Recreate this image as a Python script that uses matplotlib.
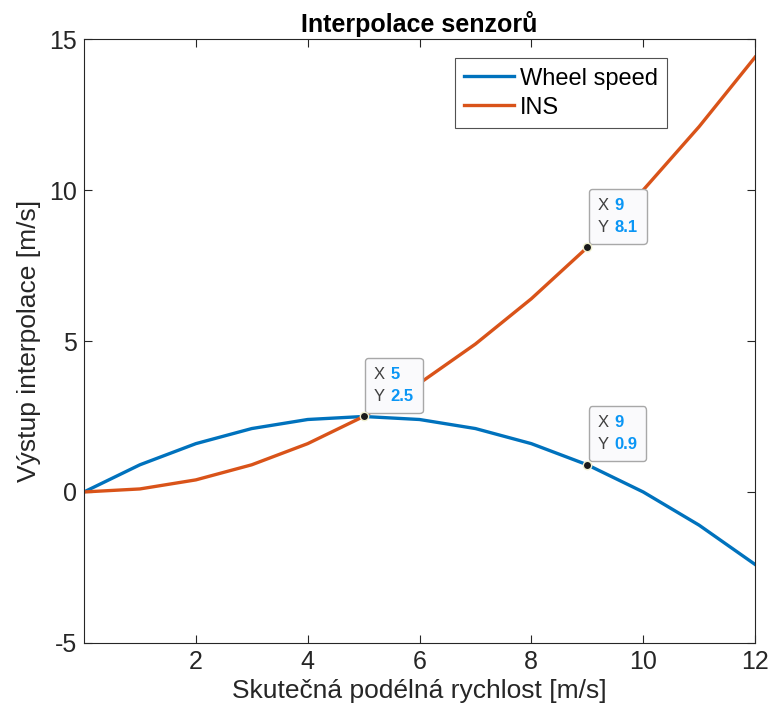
import numpy as np
import matplotlib
matplotlib.use('Agg')
import matplotlib.pyplot as plt
from matplotlib.offsetbox import AnnotationBbox, TextArea, HPacker, VPacker

plt.rcParams['font.family'] = ['Liberation Sans', 'DejaVu Sans']
plt.rcParams['axes.unicode_minus'] = False

# data
x = [0, 1, 2, 3, 4, 5, 6, 7, 8, 9, 10, 11, 12]
wheel_speed = [0, 0.9, 1.6, 2.1, 2.4, 2.5, 2.4, 2.1, 1.6, 0.9, 0, -1.1, -2.4]
ins = [0, 0.1, 0.4, 0.9, 1.6, 2.5, 3.6, 4.9, 6.4, 8.1, 10, 12.1, 14.4]

# data tips (x, y)
tips_x = [5, 9, 9]
tips_y = [2.5, 8.1, 0.9]
tips_lbl = ['5', '9', '9']
tips_val = ['2.5', '8.1', '0.9']

fig = plt.figure(figsize=(7.74, 7.24), dpi=100)
ax = fig.add_axes([0.1085, 0.112, 0.867, 0.834])

ax.plot(x, wheel_speed, color='#0072BD', lw=2.4, label='Wheel speed')
ax.plot(x, ins, color='#D95319', lw=2.4, label='INS')

ax.set_xlim(0, 12)
ax.set_ylim(-5, 15)
ax.set_xticks([2, 4, 6, 8, 10, 12])
ax.set_yticks([-5, 0, 5, 10, 15])
ax.tick_params(direction='in', top=True, right=True, labelsize=18, length=6,
               color='#262626', labelcolor='#262626', pad=5)
for s in ax.spines.values():
    s.set_color('#262626')
    s.set_linewidth(0.8)

ax.set_xlabel('Skutečná podélná rychlost [m/s]', fontsize=19, color='#262626', labelpad=4)
ax.set_ylabel('Výstup interpolace [m/s]', fontsize=19, color='#262626', labelpad=6)
ax.set_title('Interpolace senzorů', fontsize=18, fontweight='bold', pad=5)

leg = ax.legend(loc='upper right', bbox_to_anchor=(0.869, 0.9685), borderaxespad=0,
                fontsize=17, fancybox=False, edgecolor='#262626', handlelength=2.1,
                borderpad=0.4, labelspacing=0.3, handletextpad=0.25)
leg.get_frame().set_linewidth(0.8)

# data tips
for tx, ty, lx, ly in zip(tips_x, tips_y, tips_lbl, tips_val):
    ax.plot(tx, ty, 'o', ms=6, mfc='#1a1a1a', mec='#f0f0d0', mew=1, zorder=5)
    row1 = HPacker(children=[TextArea('X', textprops=dict(color='#404040', fontsize=12)),
                             TextArea(lx, textprops=dict(color='#0A96F5', fontsize=12, fontweight='bold'))],
                   sep=4, align='baseline')
    row2 = HPacker(children=[TextArea('Y', textprops=dict(color='#404040', fontsize=12)),
                             TextArea(ly, textprops=dict(color='#0A96F5', fontsize=12, fontweight='bold'))],
                   sep=4, align='baseline')
    box = VPacker(children=[row1, row2], sep=5, pad=0, align='left')
    ab = AnnotationBbox(box, (tx, ty), xybox=(7.5, 9), boxcoords='offset points',
                        box_alignment=(0, 0), frameon=True,
                        bboxprops=dict(boxstyle='round,pad=0.65,rounding_size=0.25',
                                       fc='#fafafc', ec='#a8a8a8', lw=1))
    ax.add_artist(ab)

fig.savefig('out.png', dpi=100)
